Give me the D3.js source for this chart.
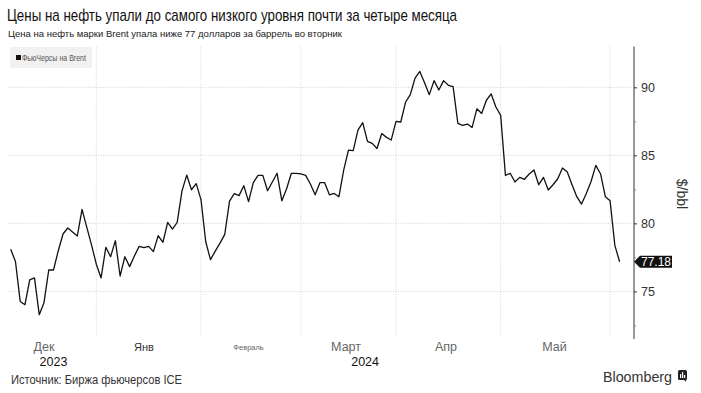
<!DOCTYPE html>
<html>
<head>
<meta charset="utf-8">
<script src="https://cdn.jsdelivr.net/npm/d3@7"></script>
<style>
  body { margin: 0; background: #fff; }
  svg text { font-family: "Liberation Sans Narrow", "Liberation Sans", Arial, sans-serif; }
</style>
</head>
<body>
<div id="chart"></div>
<script>
// Brent futures close, one value per trading day (Dec 2023 - Jun 2024)
const prices = [
  78.09, 77.2, 74.26, 74.02, 75.84, 75.99, 73.29, 74.17, 76.57, 76.57,
  77.99, 79.22, 79.66, 79.37, 79.07, 81.03, 79.7, 78.4, 77.0, 75.99,
  78.24, 77.55, 78.73, 76.13, 77.55, 76.82, 77.6, 78.31, 78.21, 78.31,
  77.92, 79.1, 78.6, 80.07, 79.58, 80.07, 82.37, 83.55, 82.47, 82.92,
  81.74, 78.65, 77.33, 77.96, 78.55, 79.19, 81.64, 82.18, 82.04, 82.77,
  81.6, 83.0, 83.53, 83.53, 82.4, 83.04, 83.68, 81.66, 82.54, 83.68,
  83.68, 83.63, 83.53, 82.89, 82.1, 82.99, 82.99, 82.1, 82.2, 81.96,
  83.92, 85.39, 85.34, 86.86, 87.4, 86.03, 85.88, 85.5, 86.6, 86.32,
  86.13, 87.5, 87.45, 88.9, 89.46, 90.68, 91.17, 90.34, 89.46, 90.49,
  89.8, 90.49, 90.15, 90.05, 87.35, 87.2, 87.3, 87.05, 88.42, 88.08,
  89.05, 89.51, 88.55, 87.94, 83.53, 83.68, 83.04, 83.38, 83.24, 83.63,
  83.92, 82.84, 83.38, 82.45, 82.84, 83.28, 84.07, 83.77, 82.84, 81.96,
  81.42, 82.2, 83.08, 84.26, 83.63, 81.96, 81.66, 78.38, 77.18
];
const lastLabel = "77.18";

// month boundaries (index of last trading day of previous month)
const monthGrid = [18, 40, 61, 81, 103, 126];
const monthLabels = ["Дек", "Янв", "Февраль", "Март", "Апр", "Май"];
const monthLabelPos = [7, 28, 50, 70.5, 91.5, 114.3];
const yearLabels = ["2023", "2024"];
const yearLabelPos = [9, 74.5];

const yTicks = [75, 80, 85, 90];
const yMinorTicks = [72.5, 77.5, 82.5, 87.5];

const width = 701, height = 393;
const plot = { left: 8, right: 634, top: 46.5, bottom: 339 };

const svg = d3.select("#chart")
  .append("svg")
  .attr("width", width)
  .attr("height", height);

svg.append("rect").attr("width", width).attr("height", height).attr("fill", "#fff");

const x = d3.scaleLinear()
  .domain([0, prices.length - 1])
  .range([10.7, 619.6]);

const y = d3.scaleLinear()
  .domain([71.5, 93])
  .range([plot.bottom, plot.top]);

// Title and subtitle
svg.append("text")
  .attr("x", 7).attr("y", 21)
  .attr("font-size", 17)
  .attr("fill", "#111")
  .attr("textLength", 450)
  .attr("lengthAdjust", "spacingAndGlyphs")
  .text("Цены на нефть упали до самого низкого уровня почти за четыре месяца");

svg.append("text")
  .attr("x", 8).attr("y", 37)
  .attr("font-size", 9.5)
  .attr("fill", "#222")
  .attr("textLength", 334)
  .attr("lengthAdjust", "spacingAndGlyphs")
  .text("Цена на нефть марки Brent упала ниже 77 долларов за баррель во вторник");

// Gridlines
svg.append("g")
  .selectAll("line")
  .data(yTicks)
  .join("line")
  .attr("x1", plot.left).attr("x2", plot.right)
  .attr("y1", d => y(d)).attr("y2", d => y(d))
  .attr("stroke", "#d4d4d4")
  .attr("stroke-dasharray", "1,1.5");

svg.append("g")
  .selectAll("line")
  .data(monthGrid)
  .join("line")
  .attr("x1", d => x(d)).attr("x2", d => x(d))
  .attr("y1", plot.top).attr("y2", plot.bottom - 3)
  .attr("stroke", "#d4d4d4")
  .attr("stroke-dasharray", "1,1.5");

// Legend
const legend = svg.append("g");
legend.append("rect")
  .attr("x", 10).attr("y", 47).attr("width", 82).attr("height", 21)
  .attr("fill", "#f1f1f1");
legend.append("rect")
  .attr("x", 16).attr("y", 55).attr("width", 5).attr("height", 5)
  .attr("fill", "#111");
legend.append("text")
  .attr("x", 22).attr("y", 60.5)
  .attr("font-size", 8.5)
  .attr("fill", "#555")
  .attr("textLength", 64)
  .attr("lengthAdjust", "spacingAndGlyphs")
  .text("ФьюЧерсы на Brent");

// Price line
const line = d3.line()
  .x((d, i) => x(i))
  .y(d => y(d));

svg.append("path")
  .datum(prices)
  .attr("fill", "none")
  .attr("stroke", "#111")
  .attr("stroke-width", 1.3)
  .attr("stroke-linejoin", "round")
  .attr("d", line);

// Y axis on the right
const yAxis = svg.append("g")
  .attr("transform", `translate(${plot.right},0)`)
  .call(d3.axisRight(y).tickValues(yTicks).tickSize(3).tickPadding(4))
  .call(g => g.select(".domain").attr("stroke", "#333").attr("d", `M0,${plot.top}V${plot.bottom}`));
yAxis.selectAll(".tick line").attr("stroke", "#333");
yAxis.selectAll(".tick text")
  .attr("font-size", 12.5)
  .attr("fill", "#333")
  .attr("font-family", "'Liberation Sans', Arial, sans-serif");

svg.append("g")
  .attr("transform", `translate(${plot.right},0)`)
  .call(d3.axisRight(y).tickValues(yMinorTicks).tickSize(2).tickFormat(""))
  .call(g => g.select(".domain").remove())
  .selectAll(".tick line").attr("stroke", "#888");

svg.append("text")
  .attr("transform", `translate(677,194) rotate(90)`)
  .attr("text-anchor", "middle")
  .attr("font-size", 14)
  .attr("fill", "#333")
  .attr("font-family", "'Liberation Sans', Arial, sans-serif")
  .text("$/bbl");

// Last value tag
const lastY = y(prices[prices.length - 1]);
svg.append("path")
  .attr("d", `M${plot.right},${lastY} L${plot.right + 6},${lastY - 6} H672 V${lastY + 6} H${plot.right + 6} Z`)
  .attr("fill", "#111");
svg.append("text")
  .attr("x", 656).attr("y", lastY + 4.5)
  .attr("text-anchor", "middle")
  .attr("font-size", 12)
  .attr("fill", "#fff")
  .attr("font-family", "'Liberation Sans', Arial, sans-serif")
  .text(lastLabel);

// Month and year labels
svg.append("g")
  .selectAll("text")
  .data(monthLabels)
  .join("text")
  .attr("x", (d, i) => x(monthLabelPos[i]))
  .attr("y", (d, i) => i === 2 ? 350 : 351)
  .attr("text-anchor", "middle")
  .attr("font-size", (d, i) => i === 2 ? 7.5 : (i === 1 ? 11 : 12.5))
  .attr("fill", (d, i) => i === 1 ? "#333" : "#666")
  .attr("font-family", "'Liberation Sans', Arial, sans-serif")
  .text(d => d);

svg.append("g")
  .selectAll("text")
  .data(yearLabels)
  .join("text")
  .attr("x", (d, i) => x(yearLabelPos[i]))
  .attr("y", 366)
  .attr("text-anchor", "middle")
  .attr("font-size", 12.5)
  .attr("fill", "#111")
  .attr("font-family", "'Liberation Sans', Arial, sans-serif")
  .text(d => d);

// Footer
svg.append("text")
  .attr("x", 11).attr("y", 384)
  .attr("font-size", 13)
  .attr("fill", "#333")
  .attr("textLength", 171)
  .attr("lengthAdjust", "spacingAndGlyphs")
  .text("Источник: Биржа фьючерсов ICE");

svg.append("text")
  .attr("x", 603).attr("y", 382)
  .attr("font-size", 14.5)
  .attr("fill", "#333")
  .attr("font-family", "'Liberation Sans', Arial, sans-serif")
  .attr("textLength", 69)
  .attr("lengthAdjust", "spacingAndGlyphs")
  .text("Bloomberg");

const logo = svg.append("g").attr("transform", "translate(678,370)");
logo.append("rect").attr("width", 9).attr("height", 10).attr("rx", 1.5).attr("fill", "#222");
logo.append("rect").attr("x", 2).attr("y", 4).attr("width", 1.2).attr("height", 4).attr("fill", "#fff");
logo.append("rect").attr("x", 4).attr("y", 2).attr("width", 1.2).attr("height", 6).attr("fill", "#fff");
logo.append("rect").attr("x", 6).attr("y", 5).attr("width", 1.2).attr("height", 3).attr("fill", "#fff");
logo.append("path").attr("d", "M6,10 L8,12 L8,10 Z").attr("fill", "#222");
</script>
</body>
</html>
